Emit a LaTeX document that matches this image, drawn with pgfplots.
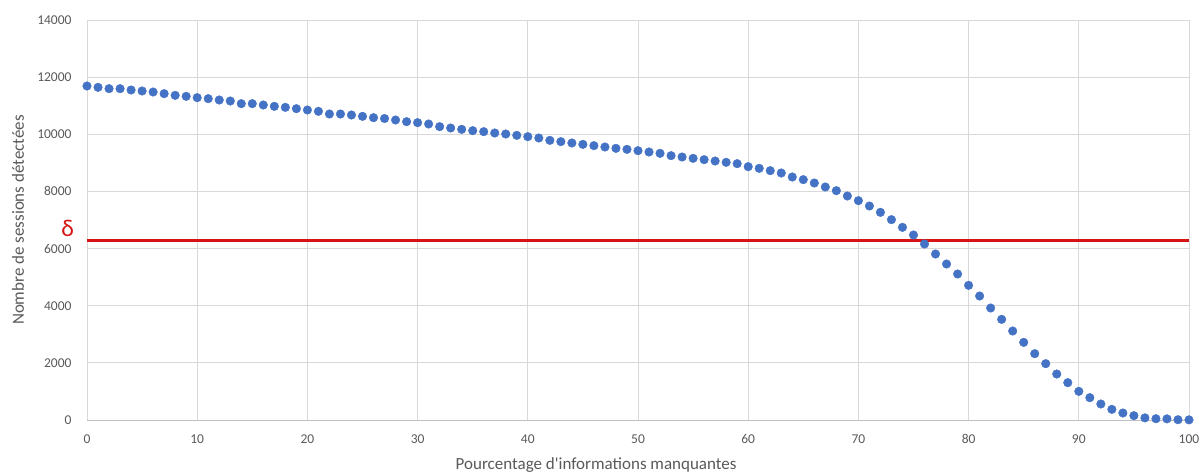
\documentclass[border=0pt]{standalone}
\usepackage{pgfplots}
\pgfplotsset{compat=1.18}
\usepackage{fontspec}
\setmainfont{Carlito}
\definecolor{ptblue}{RGB}{68,114,196}
\definecolor{txtgray}{RGB}{89,89,89}
\definecolor{gridgray}{RGB}{217,217,217}
\definecolor{axgray}{RGB}{191,191,191}
\definecolor{dred}{RGB}{214,20,20}
\begin{document}
\begin{tikzpicture}
\path[use as bounding box] (-87pt,-55pt) rectangle (1115pt,420pt);
\begin{axis}[
  at={(0,0)}, anchor=origin,
  scale only axis, width=1102pt, height=400pt,
  xmin=0, xmax=100, ymin=0, ymax=14000,
  xtick={0,10,...,100}, ytick={0,2000,...,14000},
  scaled y ticks=false, scaled x ticks=false,
  grid=major, major grid style={gridgray, line width=0.8pt},
  axis line style={draw=none}, tick style={draw=none},
  /pgf/number format/assume math mode=true,
  /pgf/number format/set thousands separator={},
  xticklabel style={font=\fontsize{13.5}{15}\selectfont, text=txtgray, anchor=center, yshift=-19pt},
  yticklabel style={font=\fontsize{13.5}{15}\selectfont, text=txtgray, anchor=east, xshift=-12pt},
  xlabel={Pourcentage d\textquotesingle informations manquantes},
  ylabel={Nombre de sessions détectées},
  every axis x label/.style={at={(axis description cs:0.462,-0.1125)}, anchor=center, font=\fontsize{17}{20}\selectfont, text=txtgray},
  every axis y label/.style={at={(axis description cs:-0.0626,0.5)}, rotate=90, anchor=center, font=\fontsize{17}{20}\selectfont, text=txtgray},
  clip=false,
]
\draw[axgray, line width=0.8pt] (axis cs:0,0) -- (axis cs:100,0);
\addplot[dred, line width=2.2pt] coordinates {(0,6280) (100,6280)};
\addplot[only marks, mark=*, mark size=4.3pt, mark options={fill=ptblue, draw=ptblue}] table {
x y
0 11690
1 11643
2 11597
3 11597
4 11550
5 11515
6 11480
7 11422
8 11363
9 11328
10 11282
11 11247
12 11200
13 11165
14 11072
15 11072
16 11025
17 10978
18 10943
19 10897
20 10850
21 10803
22 10710
23 10710
24 10675
25 10628
26 10582
27 10552
28 10500
29 10442
30 10407
31 10360
32 10267
33 10220
34 10173
35 10127
36 10092
37 10045
38 10010
39 9963
40 9917
41 9870
42 9788
43 9742
44 9695
45 9648
46 9602
47 9555
48 9508
49 9473
50 9427
51 9380
52 9333
53 9252
54 9205
55 9158
56 9112
57 9065
58 9018
59 8972
60 8867
61 8808
62 8727
63 8645
64 8505
65 8412
66 8295
67 8155
68 8027
69 7840
70 7677
71 7490
72 7268
73 7012
74 6743
75 6475
76 6160
77 5810
78 5460
79 5110
80 4713
81 4340
82 3920
83 3523
84 3115
85 2718
86 2322
87 1972
88 1610
89 1307
90 1003
91 782
92 560
93 373
94 245
95 152
96 75
97 45
98 40
99 10
100 5
};
\node[text=dred, font=\fontsize{24}{26}\selectfont] at (axis cs:-1.75,6700) {δ};
\end{axis}
\end{tikzpicture}
\end{document}
